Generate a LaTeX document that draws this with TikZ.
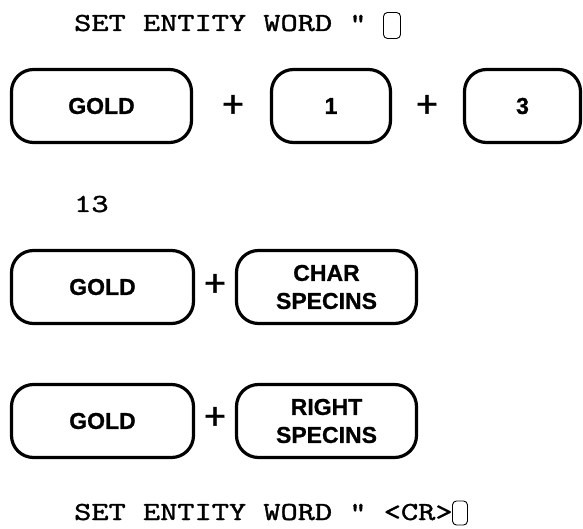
\documentclass[tikz,border=0pt]{standalone}
\usepackage{fontspec}
\setsansfont{Liberation Sans}
\newfontfamily\keyfont{Liberation Sans Bold}[FakeBold=0.9]
\newfontfamily\plusfont{Liberation Sans}[FakeBold=0.8]
\newfontfamily\screenfont{lmmono10-regular.otf}[FakeBold=1.1]
\usepackage{graphicx}
\usepackage{tikz}
\usetikzlibrary{positioning}

\newcommand{\screentext}[1]{\scalebox{1.26}[1]{\fontsize{26}{30}\selectfont\screenfont #1}}

\begin{document}
\begin{tikzpicture}[
  x=1pt, y=-1pt,
  key/.style={
    draw, line width=3.2pt, rounded corners=22pt,
    minimum height=73pt, align=center, inner sep=0pt,
    font=\fontsize{23}{28}\selectfont\keyfont
  },
  plus/.style={
    font=\fontsize{38}{38}\selectfont\plusfont, inner sep=0pt
  },
  screen/.style={
    anchor=base west, inner sep=0pt
  },
  cursor/.style={
    draw, line width=0.9pt, rounded corners=4pt,
    inner sep=0pt
  }
]

\useasboundingbox (0,0) rectangle (583,529);

%% ============================================================
%%  PROMPT
%% ============================================================
\node[screen] (promptTop) at (74, 31) {\screentext{SET ENTITY WORD "}};
\node[cursor, minimum width=17pt, minimum height=26pt] (cursorTop)
  at (392, 25.5) {};

%% ============================================================
%%  FIRST ENTRY --- GOLD + 1 + 3
%% ============================================================
\node[key, minimum width=180pt] (goldA) at (101.5, 106) {GOLD};
\node[plus] (plusA) at (233, 106) {+};
\node[key, minimum width=119pt] (one) at (331, 106) {1};
\node[plus] (plusB) at (427, 106) {+};
\node[key, minimum width=116pt] (three) at (522.5, 106) {3};

\node[screen] (echo) at (74, 212) {\screentext{13}};

%% ============================================================
%%  SECOND ENTRY --- GOLD + CHAR SPECINS
%% ============================================================
\node[key, minimum width=182pt] (goldB) at (102.5, 287) {GOLD};
\node[plus] (plusC) at (215, 285) {+};
\node[key, minimum width=180pt] (charspec) at (326.5, 287)
  {CHAR\\SPECINS};

%% ============================================================
%%  THIRD ENTRY --- GOLD + RIGHT SPECINS
%% ============================================================
\node[key, minimum width=182pt] (goldC) at (102.5, 421) {GOLD};
\node[plus] (plusD) at (215, 418) {+};
\node[key, minimum width=180pt] (rightspec) at (326.5, 421)
  {RIGHT\\SPECINS};

%% ============================================================
%%  RESULT
%% ============================================================
\node[screen] (promptBottom) at (74, 520)
  {\screentext{SET ENTITY WORD " <CR>}};
\node[cursor, minimum width=15pt, minimum height=24pt] (cursorBottom)
  at (460, 513) {};

\end{tikzpicture}
\end{document}
